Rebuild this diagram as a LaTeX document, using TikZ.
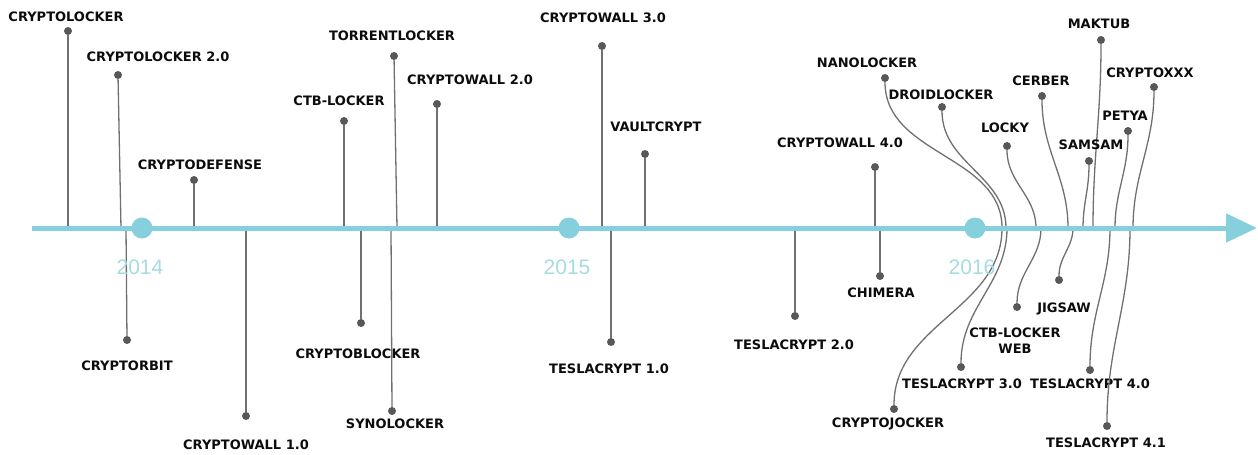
\documentclass[tikz,border=0pt]{standalone}
\usepackage{fontspec}
\setmainfont{DejaVu Sans}
\newfontfamily\yearfont{Liberation Sans}
\usepackage{tikz}
\usetikzlibrary{arrows.meta, positioning}
\usepackage{xcolor}
\definecolor{axisblue}{RGB}{134,207,220}
\definecolor{yearblue}{RGB}{166,219,228}
\definecolor{dotgray}{RGB}{88,88,88}
\definecolor{stemgray}{RGB}{112,112,112}
\definecolor{inkblack}{RGB}{12,12,12}

\begin{document}
\begin{tikzpicture}[x=1pt, y=-1pt,
  dot/.style={circle, fill=dotgray, inner sep=0pt, minimum size=8pt},
  stem/.style={stemgray, line width=1.3pt},
  lbl/.style={text=inkblack, font=\fontsize{13}{16}\selectfont\bfseries, inner sep=0pt, align=center},
  yearmark/.style={circle, fill=axisblue, inner sep=0pt, minimum size=21pt},
  yearlbl/.style={text=yearblue, font=\yearfont\fontsize{21}{22}\selectfont, inner sep=0pt}]
  \useasboundingbox (0,0) rectangle (1258,455);
  \coordinate (start) at (32,228);
  \coordinate (end) at (1257,228);

  % straight stems
  \foreach \n/\dx/\dy/\ax/\lx/\ly/\txt in {
      cryptolocker/68/31/68/66/17/CRYPTOLOCKER,
      cryptolockerii/118/75/121/158/57/CRYPTOLOCKER 2.0,
      cryptodefense/194/180/194/200/165/CRYPTODEFENSE,
      ctblocker/344/121/344/339/101/CTB-LOCKER,
      torrentlocker/394/56/397/392/36/TORRENTLOCKER,
      cryptowallii/437/104/437/470/80/CRYPTOWALL 2.0,
      cryptowalliii/602/46/602/603/18/CRYPTOWALL 3.0,
      vaultcrypt/645/154/645/656/127/VAULTCRYPT,
      cryptowalliv/875/167/875/840/143/CRYPTOWALL 4.0,
      cryptorbit/127/340/126/127/366/CRYPTORBIT,
      cryptowalli/246/416/246/246/445/CRYPTOWALL 1.0,
      cryptoblocker/361/323/361/358/354/CRYPTOBLOCKER,
      synolocker/392/411/391/395/424/SYNOLOCKER,
      teslacrypti/611/342/611/609/369/TESLACRYPT 1.0,
      teslacryptii/795/316/795/794/345/TESLACRYPT 2.0,
      chimera/880/276/880/881/293/CHIMERA} {
    \node[dot] (\n) at (\dx,\dy) {};
    \coordinate (\n-a) at (\ax,228);
    \node[lbl] (\n-l) at (\lx,\ly) {\txt};
    \draw[stem] (\n-a) -- (\n);
  }

  % curved stems, above the axis
  \foreach \n/\dx/\dy/\ax/\lx/\ly/\txt in {
      nanolocker/885/78/1002/867/63/NANOLOCKER,
      droidlocker/942/107/1006/941/95/DROIDLOCKER,
      locky/1007/146/1036/1005/128/LOCKY,
      cerber/1042/96/1068/1041/81/CERBER,
      maktub/1101/40/1093/1099/24/MAKTUB,
      cryptoxxx/1154/87/1133/1150/73/CRYPTOXXX,
      petya/1128/131/1115/1125/116/PETYA,
      samsam/1089/161/1083/1091/145/SAMSAM} {
    \node[dot] (\n) at (\dx,\dy) {};
    \coordinate (\n-a) at (\ax,228);
    \node[lbl] (\n-l) at (\lx,\ly) {\txt};
    \draw[stem] (\n-a) to[out=90, in=-90] (\n);
  }

  % curved stems, below the axis
  \foreach \n/\dx/\dy/\ax/\lx/\ly/\txt in {
      cryptojocker/894/409/1002/888/424/CRYPTOJOCKER,
      teslacryptiii/961/367/1007/962/384/TESLACRYPT 3.0,
      ctbweb/1017/307/1041/1015/341/{CTB-LOCKER\\WEB},
      jigsaw/1059/280/1073/1064/309/JIGSAW,
      teslacryptiv/1090/370/1110/1090/384/TESLACRYPT 4.0,
      teslacryptivi/1107/426/1130/1106/443/TESLACRYPT 4.1} {
    \node[dot] (\n) at (\dx,\dy) {};
    \coordinate (\n-a) at (\ax,228);
    \node[lbl] (\n-l) at (\lx,\ly) {\txt};
    \draw[stem] (\n-a) to[out=-90, in=90] (\n);
  }

  % time axis
  \draw[axisblue, line width=5pt, -{Triangle[length=31pt, width=28pt]}] (start) -- (end);
  \node[yearmark] (y2014) at (142,228) {};
  \node[yearmark] (y2015) at (569,228) {};
  \node[yearmark] (y2016) at (975,228) {};
  \node[yearlbl, below=39pt of y2014.center, anchor=center, xshift=-2pt] (y2014-l) {2014};
  \node[yearlbl, below=39pt of y2015.center, anchor=center, xshift=-2pt] (y2015-l) {2015};
  \node[yearlbl, below=39pt of y2016.center, anchor=center, xshift=-3pt] (y2016-l) {2016};
\end{tikzpicture}
\end{document}
